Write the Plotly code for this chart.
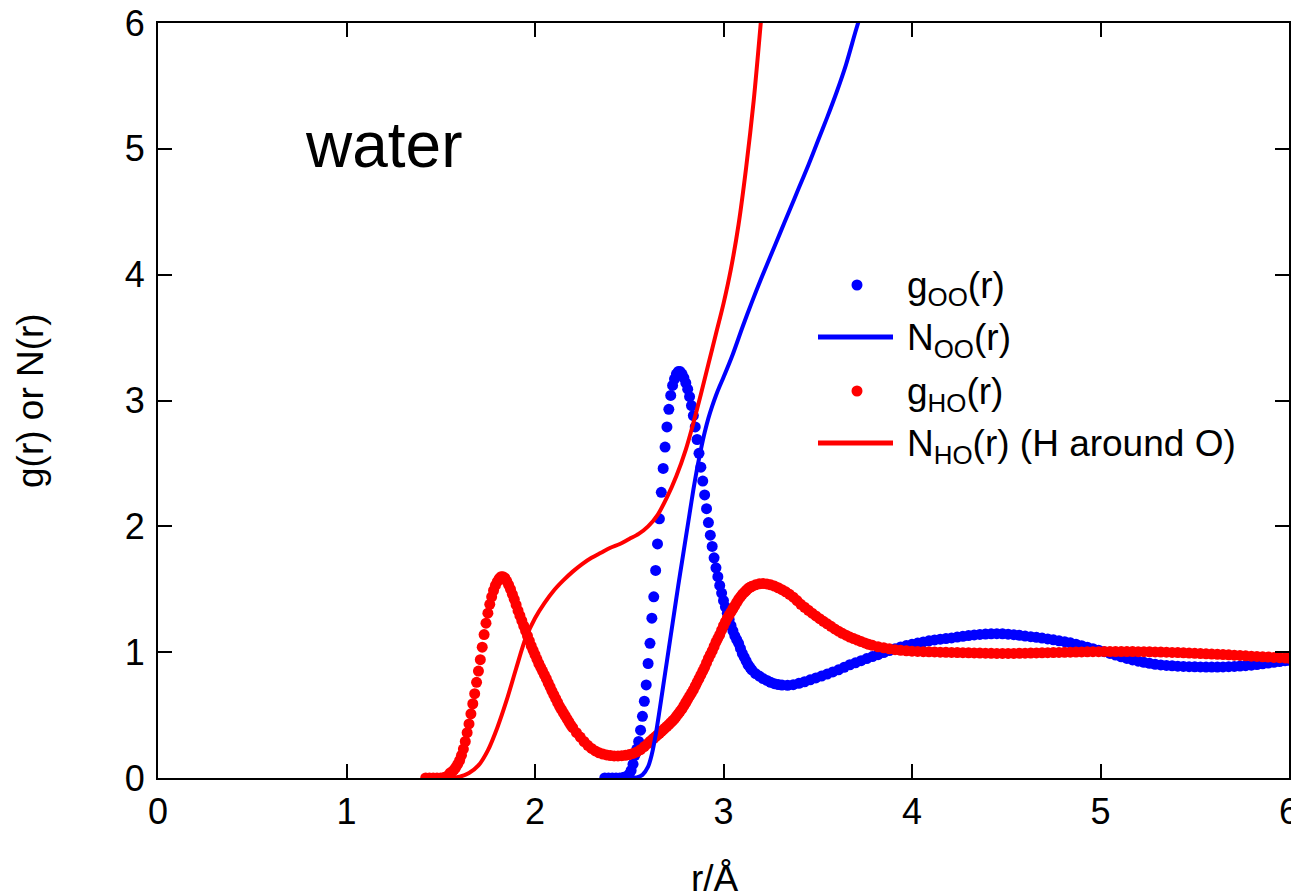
import plotly.graph_objects as go

# ---------------- data ----------------
r_goo = [2.37, 2.39, 2.41, 2.43, 2.45, 2.47, 2.49,
         2.50, 2.51, 2.52, 2.53, 2.54, 2.55, 2.56, 2.57, 2.58, 2.59,
         2.60, 2.61, 2.62, 2.63, 2.64, 2.65, 2.66, 2.67, 2.68, 2.69,
         2.70, 2.71, 2.72, 2.73, 2.74, 2.75, 2.76, 2.77, 2.78, 2.79,
         2.80, 2.81, 2.82, 2.83, 2.84, 2.85, 2.86, 2.87, 2.88, 2.89,
         2.90, 2.91, 2.92, 2.93, 2.94, 2.95, 2.96, 2.97, 2.98, 2.99,
         3.00, 3.01, 3.02, 3.03, 3.04, 3.05, 3.06, 3.07, 3.08, 3.09,
         3.10, 3.11, 3.12, 3.13, 3.14, 3.15,
         3.17, 3.19, 3.21, 3.23, 3.25, 3.27, 3.29, 3.31,
         3.34, 3.37, 3.40, 3.43, 3.46, 3.49, 3.52, 3.55, 3.58, 3.61,
         3.64, 3.67, 3.70, 3.73, 3.76, 3.79, 3.82, 3.85, 3.88, 3.91,
         3.94, 3.97, 4.00, 4.03, 4.06, 4.09, 4.12, 4.15, 4.18, 4.21,
         4.24, 4.27, 4.30, 4.33, 4.36, 4.39, 4.42, 4.45, 4.48, 4.51,
         4.54, 4.57, 4.60, 4.63, 4.66, 4.69, 4.72, 4.75, 4.78, 4.81,
         4.84, 4.87, 4.90, 4.93, 4.96, 4.99, 5.02, 5.05, 5.08, 5.11,
         5.14, 5.17, 5.20, 5.23, 5.26, 5.29, 5.32, 5.35, 5.38, 5.41,
         5.44, 5.47, 5.50, 5.53, 5.56, 5.59, 5.62, 5.65, 5.68, 5.71,
         5.74, 5.77, 5.80, 5.83, 5.86, 5.89, 5.92, 5.95, 5.98, 6.00]
g_oo = [0, 0, 0, 0, 0, 0.005, 0.015,
        0.03, 0.06, 0.11, 0.18, 0.23, 0.29, 0.38, 0.49, 0.61, 0.74,
        0.91, 1.07, 1.27, 1.44, 1.65, 1.86, 2.06, 2.27, 2.46, 2.63,
        2.79, 2.93, 3.04, 3.12, 3.17, 3.21, 3.23, 3.23, 3.21, 3.18,
        3.14, 3.09, 3.03, 2.96, 2.88, 2.79, 2.69, 2.58, 2.47, 2.36,
        2.25, 2.14, 2.03, 1.93, 1.84, 1.75, 1.67, 1.60, 1.53, 1.47,
        1.41, 1.36, 1.31, 1.26, 1.21, 1.17, 1.13, 1.10, 1.07, 1.03,
        0.99, 0.96, 0.93, 0.90, 0.88, 0.86,
        0.83, 0.81, 0.79, 0.775, 0.76, 0.75, 0.743, 0.739,
        0.737, 0.742, 0.752, 0.765, 0.78, 0.795, 0.81, 0.826, 0.843, 0.86,
        0.88, 0.90, 0.915, 0.932, 0.949, 0.965, 0.98, 0.997, 1.013, 1.027,
        1.041, 1.052, 1.062, 1.072, 1.081, 1.09, 1.097, 1.103, 1.108, 1.113,
        1.12, 1.126, 1.132, 1.137, 1.141, 1.144, 1.146, 1.147, 1.146, 1.143,
        1.139, 1.134, 1.128, 1.123, 1.118, 1.112, 1.105, 1.098, 1.09, 1.083,
        1.074, 1.063, 1.051, 1.04, 1.028, 1.016, 1.004, 0.99, 0.977, 0.963,
        0.95, 0.938, 0.928, 0.919, 0.911, 0.904, 0.899, 0.895, 0.892, 0.889,
        0.887, 0.885, 0.884, 0.883, 0.882, 0.882, 0.882, 0.883, 0.885, 0.887,
        0.89, 0.893, 0.897, 0.902, 0.907, 0.913, 0.919, 0.925, 0.931, 0.935]

r_gho = [1.42, 1.44, 1.46, 1.48, 1.50, 1.52, 1.54,
         1.55, 1.56, 1.57, 1.58, 1.59, 1.60, 1.61, 1.62, 1.63, 1.64,
         1.65, 1.66, 1.67, 1.68, 1.69, 1.70, 1.71, 1.72, 1.73, 1.74,
         1.75, 1.76, 1.77, 1.78, 1.79, 1.80, 1.81, 1.82, 1.83, 1.84,
         1.85, 1.86, 1.87, 1.88, 1.89, 1.90, 1.91, 1.92, 1.93, 1.94,
         1.95, 1.96, 1.97, 1.98, 1.99, 2.00, 2.01, 2.02, 2.03, 2.04,
         2.05, 2.06, 2.07, 2.08, 2.09, 2.10, 2.11, 2.12, 2.13, 2.14,
         2.15, 2.16, 2.17, 2.18, 2.19, 2.20,
         2.22, 2.24, 2.26, 2.28, 2.30, 2.32, 2.34, 2.36, 2.38, 2.40,
         2.42, 2.44, 2.46, 2.48, 2.50, 2.52, 2.54, 2.56, 2.58, 2.60,
         2.61, 2.62, 2.63, 2.64, 2.65, 2.66, 2.67, 2.68, 2.69, 2.70,
         2.71, 2.72, 2.73, 2.74, 2.75, 2.76, 2.77, 2.78, 2.79, 2.80,
         2.81, 2.82, 2.83, 2.84, 2.85, 2.86, 2.87, 2.88, 2.89, 2.90,
         2.91, 2.92, 2.93, 2.94, 2.95, 2.96, 2.97, 2.98, 2.99, 3.00,
         3.01, 3.02, 3.03, 3.04, 3.05, 3.06, 3.07, 3.08, 3.09, 3.10,
         3.11, 3.12, 3.13, 3.14, 3.15,
         3.17, 3.19, 3.21, 3.23, 3.25, 3.27, 3.29, 3.31, 3.33, 3.35,
         3.37, 3.39, 3.41, 3.43, 3.45, 3.47, 3.49, 3.51, 3.53, 3.55,
         3.57, 3.59, 3.61, 3.63, 3.65, 3.67, 3.69, 3.71, 3.73, 3.75,
         3.77, 3.79,
         3.82, 3.85, 3.88, 3.91, 3.94, 3.97, 4.00, 4.03, 4.06, 4.09,
         4.12, 4.15, 4.18, 4.21, 4.24, 4.27, 4.30, 4.33, 4.36, 4.39,
         4.42, 4.45, 4.48, 4.51, 4.54, 4.57, 4.60, 4.63, 4.66, 4.69,
         4.72, 4.75, 4.78, 4.81, 4.84, 4.87, 4.90, 4.93, 4.96, 4.99,
         5.02, 5.05, 5.08, 5.11, 5.14, 5.17, 5.20, 5.23, 5.26, 5.29,
         5.32, 5.35, 5.38, 5.41, 5.44, 5.47, 5.50, 5.53, 5.56, 5.59,
         5.62, 5.65, 5.68, 5.71, 5.74, 5.77, 5.80, 5.83, 5.86, 5.89,
         5.92, 5.95, 5.98, 6.00]
g_ho = [0, 0, 0, 0, 0, 0.005, 0.02,
        0.04, 0.05, 0.065, 0.085, 0.11, 0.14, 0.18, 0.23, 0.29, 0.36,
        0.43, 0.51, 0.59, 0.67, 0.76, 0.85, 0.94, 1.04, 1.14, 1.23,
        1.31, 1.38, 1.44, 1.49, 1.53, 1.56, 1.585, 1.60, 1.60, 1.59,
        1.565, 1.535, 1.50, 1.46, 1.42, 1.375, 1.33, 1.29, 1.25, 1.21,
        1.17, 1.13, 1.09, 1.05, 1.015, 0.98, 0.945, 0.91, 0.88, 0.85,
        0.82, 0.79, 0.755, 0.725, 0.69, 0.66, 0.63, 0.60, 0.57, 0.545,
        0.52, 0.495, 0.47, 0.445, 0.42, 0.40,
        0.36, 0.325, 0.29, 0.26, 0.235, 0.215, 0.20, 0.19, 0.183, 0.178,
        0.175, 0.175, 0.177, 0.18, 0.186, 0.195, 0.207, 0.225, 0.25, 0.275,
        0.29, 0.303, 0.316, 0.329, 0.342, 0.355, 0.369, 0.383, 0.397, 0.411,
        0.425, 0.44, 0.455, 0.47, 0.49, 0.51, 0.53, 0.55, 0.575, 0.60,
        0.625, 0.65, 0.675, 0.70, 0.73, 0.76, 0.79, 0.82, 0.85, 0.88,
        0.915, 0.95, 0.98, 1.01, 1.045, 1.08, 1.11, 1.14, 1.175, 1.21,
        1.24, 1.27, 1.295, 1.32, 1.345, 1.37, 1.395, 1.42, 1.44, 1.46,
        1.475, 1.49, 1.505, 1.515, 1.523,
        1.535, 1.543, 1.545, 1.542, 1.535, 1.525, 1.512, 1.497, 1.48, 1.46,
        1.437, 1.41, 1.38, 1.357, 1.333, 1.31, 1.288, 1.266, 1.245, 1.225,
        1.205, 1.185, 1.167, 1.15, 1.135, 1.12, 1.108, 1.096, 1.084, 1.073,
        1.063, 1.054,
        1.043, 1.035, 1.027, 1.02, 1.015, 1.011, 1.008, 1.006, 1.004, 1.003,
        1.002, 1.0, 0.999, 0.998, 0.997, 0.996, 0.995, 0.994, 0.993, 0.992,
        0.991, 0.99, 0.99, 0.99, 0.99, 0.991, 0.992, 0.993, 0.994, 0.995,
        0.996, 0.997, 0.998, 0.999, 1.0, 1.001, 1.002, 1.003, 1.004, 1.004,
        1.005, 1.005, 1.005, 1.005, 1.005, 1.005, 1.004, 1.004, 1.003, 1.002,
        1.001, 1.0, 0.998, 0.997, 0.995, 0.993, 0.991, 0.989, 0.987, 0.985,
        0.983, 0.981, 0.979, 0.976, 0.974, 0.971, 0.968, 0.966, 0.963, 0.961,
        0.958, 0.956, 0.954, 0.952]

r_noo = [2.40, 2.50, 2.54, 2.57, 2.60, 2.62, 2.64, 2.66, 2.68, 2.70,
         2.72, 2.74, 2.76, 2.78, 2.80, 2.82, 2.84, 2.86, 2.88, 2.90,
         2.92, 2.94, 2.96, 2.98, 3.00, 3.05, 3.10, 3.15, 3.20, 3.25,
         3.30, 3.35, 3.40, 3.45, 3.50, 3.55, 3.60, 3.65, 3.70, 3.73]
n_oo = [0, 0, 0.005, 0.025, 0.09, 0.19, 0.34, 0.53, 0.73, 0.93,
        1.13, 1.33, 1.53, 1.72, 1.91, 2.10, 2.29, 2.46, 2.61, 2.745,
        2.86, 2.955, 3.04, 3.115, 3.185, 3.37, 3.58, 3.78, 3.97, 4.15,
        4.33, 4.51, 4.69, 4.87, 5.06, 5.25, 5.45, 5.67, 5.93, 6.08]

r_nho = [1.45, 1.55, 1.60, 1.65, 1.70, 1.75, 1.80, 1.85, 1.90, 1.95,
         2.00, 2.05, 2.10, 2.15, 2.20, 2.25, 2.30, 2.35, 2.40, 2.45,
         2.50, 2.55, 2.60, 2.65, 2.70, 2.75, 2.80, 2.84, 2.88, 2.92,
         2.96, 3.00, 3.04, 3.08, 3.12, 3.16, 3.20]
n_ho = [0, 0, 0.01, 0.04, 0.10, 0.22, 0.40, 0.62, 0.87, 1.11,
        1.27, 1.39, 1.49, 1.57, 1.64, 1.70, 1.75, 1.79, 1.83, 1.86,
        1.90, 1.94, 2.00, 2.09, 2.23, 2.40, 2.61, 2.82, 3.05, 3.29,
        3.53, 3.77, 4.05, 4.40, 4.85, 5.38, 6.04]

x_ticks = [0, 1, 2, 3, 4, 5, 6]
y_ticks = [0, 1, 2, 3, 4, 5, 6]
series_names = ["g<sub>OO</sub>(r)", "N<sub>OO</sub>(r)",
                "g<sub>HO</sub>(r)", "N<sub>HO</sub>(r) (H around O)"]
series_colors = ["#0000ff", "#0000ff", "#ff0000", "#ff0000"]
series_kinds = ["marker", "line", "marker", "line"]

assert len(r_goo) == len(g_oo)
assert len(r_gho) == len(g_ho)
assert len(r_noo) == len(n_oo)
assert len(r_nho) == len(n_ho)

FONT = "Liberation Sans, Arial, Helvetica, sans-serif"
MS = 11

fig = go.Figure()
fig.add_trace(go.Scatter(x=r_goo, y=g_oo, mode="markers", name=series_names[0],
                         marker=dict(color=series_colors[0], size=MS, line=dict(width=0)),
                         showlegend=False))
fig.add_trace(go.Scatter(x=r_gho, y=g_ho, mode="markers", name=series_names[2],
                         marker=dict(color=series_colors[2], size=MS, line=dict(width=0)),
                         showlegend=False))
fig.add_trace(go.Scatter(x=r_noo, y=n_oo, mode="lines", name=series_names[1],
                         line=dict(color=series_colors[1], width=4, shape="spline", smoothing=0.8),
                         showlegend=False))
fig.add_trace(go.Scatter(x=r_nho, y=n_ho, mode="lines", name=series_names[3],
                         line=dict(color=series_colors[3], width=4, shape="spline", smoothing=0.8),
                         showlegend=False))

axis_common = dict(showgrid=False, zeroline=False, showline=True, linecolor="black",
                   linewidth=2, mirror="ticks", ticks="inside", ticklen=14, tickwidth=2,
                   tickcolor="black", ticklabeloverflow="allow",
                   tickfont=dict(family=FONT, size=36, color="black"))
fig.update_xaxes(range=[0, 6], tickvals=x_ticks, ticktext=[str(v) for v in x_ticks],
                 ticklabelstandoff=1, **axis_common)
fig.update_yaxes(range=[0, 6], tickvals=y_ticks, ticktext=[str(v) for v in y_ticks],
                 ticklabelstandoff=4, **axis_common)

# page offset: the html body adds 8 px around the figure
OFF = 8
L, T, PW, PH = 158.0, 23.0, 1131.0, 755.0   # plot area in page pixels
def px2x(px):
    return (px - L) / PW
def py2y(py):
    return (T + PH - py) / PH

shapes = []
annotations = []
row_sym_y = [285, 337, 391, 443]
for name, col, kind, sy in zip(series_names, series_colors, series_kinds, row_sym_y):
    if kind == "marker":
        shapes.append(dict(type="circle", xref="paper", yref="paper",
                           xsizemode="pixel", ysizemode="pixel",
                           xanchor=px2x(857), yanchor=py2y(sy),
                           x0=-5.5, x1=5.5, y0=-5.5, y1=5.5,
                           fillcolor=col, line=dict(width=0)))
    else:
        shapes.append(dict(type="line", xref="paper", yref="paper",
                           x0=px2x(818), x1=px2x(893), y0=py2y(sy), y1=py2y(sy),
                           line=dict(color=col, width=5)))
    annotations.append(dict(text=name, xref="paper", yref="paper",
                            x=px2x(905), y=py2y(sy + 2.5), xanchor="left", yanchor="middle",
                            showarrow=False, font=dict(family=FONT, size=37, color="black")))

annotations.append(dict(text="water", xref="paper", yref="paper",
                        x=px2x(303), y=py2y(145), xanchor="left", yanchor="middle",
                        showarrow=False, font=dict(family=FONT, size=64, color="black")))
annotations.append(dict(text="r/Å", xref="paper", yref="paper",
                        x=px2x(715), y=py2y(878), xanchor="center", yanchor="middle",
                        showarrow=False, font=dict(family=FONT, size=37, color="black")))
annotations.append(dict(text="g(r) or N(r)", xref="paper", yref="paper",
                        x=px2x(30), y=py2y(401), xanchor="center", yanchor="middle",
                        textangle=-90, showarrow=False,
                        font=dict(family=FONT, size=37, color="black")))

fig.update_layout(width=1299 - OFF, height=894 - OFF,
                  margin=dict(l=158 - OFF, r=10, t=23 - OFF, b=116, autoexpand=False),
                  paper_bgcolor="white", plot_bgcolor="white",
                  shapes=shapes, annotations=annotations, showlegend=False)

fig.write_html("out.html")
